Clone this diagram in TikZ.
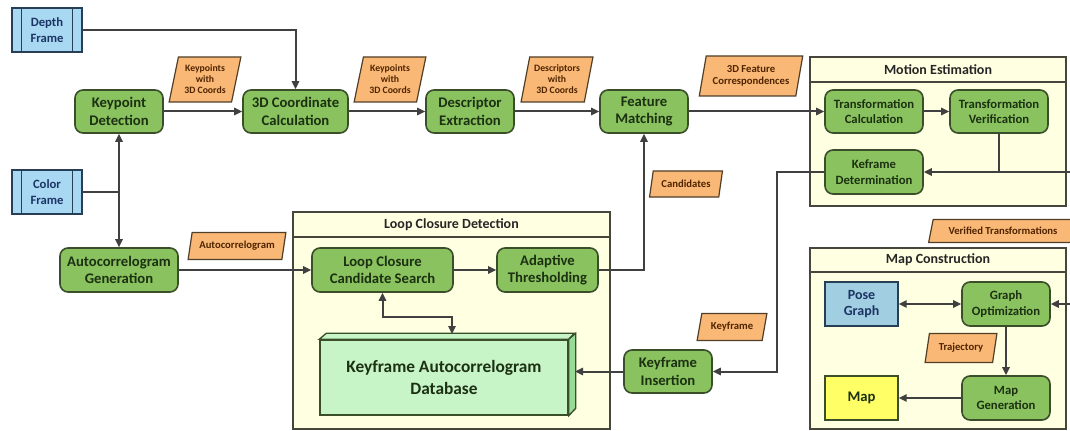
\documentclass[tikz,border=0pt]{standalone}
\usepackage{fontspec}
\setmainfont{Carlito}
\usetikzlibrary{arrows.meta,shapes.geometric,calc}
\definecolor{gfill}{RGB}{137,194,94}
\definecolor{gdraw}{RGB}{58,78,42}
\definecolor{gtext}{RGB}{28,48,18}
\definecolor{bfill}{RGB}{168,216,242}
\definecolor{bdraw}{RGB}{40,62,84}
\definecolor{btext}{RGB}{28,52,100}
\definecolor{pfill}{RGB}{162,206,226}
\definecolor{yfill}{RGB}{255,255,102}
\definecolor{ofill}{RGB}{249,184,118}
\definecolor{odraw}{RGB}{80,62,40}
\definecolor{otext}{RGB}{80,36,0}
\definecolor{cfill}{RGB}{255,255,226}
\definecolor{cdraw}{RGB}{70,70,60}
\definecolor{dbfill}{RGB}{200,245,200}
\definecolor{dbside}{RGB}{150,220,150}
\definecolor{lcol}{RGB}{64,64,64}
\tikzset{
  sz/.style 2 args={minimum width=#1*0.75pt, minimum height=#2*0.75pt},
  gbox/.style={draw=gdraw, fill=gfill, line width=1.2pt, rounded corners=6pt,
    text=gtext, font=\bfseries\fontsize{11}{13}\selectfont, align=center, inner sep=1pt},
  gsmall/.style={gbox, font=\bfseries\fontsize{9.5}{11.5}\selectfont},
  fbox/.style={draw=bdraw, fill=bfill, line width=1.1pt, text=btext,
    font=\bfseries\fontsize{9.5}{11.5}\selectfont, align=center, inner sep=1pt},
  plbl/.style={trapezium, trapezium left angle=#1, trapezium right angle=180-#1,
    trapezium stretches=true, draw=odraw, fill=ofill, line width=0.9pt, text=otext,
    font=\bfseries\fontsize{8}{9}\selectfont, align=center, inner sep=0pt},
  plbl3/.style={font=\bfseries\fontsize{7.3}{8.3}\selectfont},
  cont/.style={draw=cdraw, fill=cfill, line width=1pt},
  hdr/.style={font=\bfseries\fontsize{10.5}{12}\selectfont, text=black!85},
  conn/.style={draw=lcol, line width=1.5pt},
  arr/.style={conn, -{Triangle[length=6pt,width=5.5pt]}},
  arrboth/.style={conn, {Triangle[length=6pt,width=5.5pt]}-{Triangle[length=6pt,width=5.5pt]}},
}
\begin{document}
\begin{tikzpicture}[x=0.75pt,y=-0.75pt]
\useasboundingbox (0,0) rectangle (1070,431);

% containers
\draw[cont] (810,57) rectangle (1066,206);
\draw[cont] (810,82) -- (1066,82);
\node[hdr] (hme) at (938,69.5) {Motion Estimation};
\draw[cont] (293,212) rectangle (610,429);
\draw[cont] (293,237) -- (610,237);
\node[hdr] (hlc) at (451.5,224.5) {Loop Closure Detection};
\draw[cont] (810,248) rectangle (1066,429);
\draw[cont] (810,272) -- (1066,272);
\node[hdr] (hmc) at (938,260) {Map Construction};

% input frames
\node[fbox, sz={70}{44}] (df) at (47,30) {Depth\\Frame};
\node[fbox, sz={70}{44}] (cf) at (47,192) {Color\\Frame};
\foreach \n in {df,cf}{
  \draw[draw=bdraw, line width=1.1pt] ([xshift=7.5pt]\n.north west) -- ([xshift=7.5pt]\n.south west);
  \draw[draw=bdraw, line width=1.1pt] ([xshift=-7.5pt]\n.north east) -- ([xshift=-7.5pt]\n.south east);
}

% main process nodes
\node[gbox, sz={88}{43}] (kd) at (119,111.5) {Keypoint\\Detection};
\node[gbox, sz={105}{43}] (cc) at (295.5,111.5) {3D Coordinate\\Calculation};
\node[gbox, sz={88}{43}] (de) at (470,111.5) {Descriptor\\Extraction};
\node[gbox, sz={88}{43}] (fm) at (644,111.5) {Feature\\Matching};
\node[gsmall, sz={98}{43}] (tc) at (874,111.5) {Transformation\\Calculation};
\node[gsmall, sz={98}{43}] (tv) at (999,111.5) {Transformation\\Verification};
\node[gsmall, sz={98}{44}] (kdt) at (874,172) {Keframe\\Determination};
\node[gbox, sz={118}{44}] (ag) at (119,270) {Autocorrelogram\\Generation};
\node[gbox, sz={141}{44}] (lc) at (382.5,270) {Loop Closure\\Candidate Search};
\node[gbox, sz={101}{44}] (at) at (547.5,270) {Adaptive\\Thresholding};
\node[gbox, sz={88}{43}] (ki) at (668,371.5) {Keyframe\\Insertion};
\node[gsmall, sz={88}{44}] (go) at (1006,304) {Graph\\Optimization};
\node[gsmall, sz={88}{44}] (mg) at (1006,398) {Map\\Generation};
\node[draw=bdraw, fill=pfill, line width=1.1pt, sz={73}{44}, align=center,
  font=\bfseries\fontsize{10.5}{12.5}\selectfont, text=btext] (pg) at (861.5,304) {Pose\\Graph};
\node[draw=gdraw, fill=yfill, line width=1.1pt, sz={73}{44},
  font=\bfseries\fontsize{11}{13}\selectfont, text=gtext] (mp) at (861.5,398) {Map};

% database (3D box)
\node[draw=gdraw, fill=dbfill, line width=1.1pt, sz={248}{75}, align=center,
  font=\bfseries\fontsize{13}{17}\selectfont, text=gtext] (db) at (444,377.5) {Keyframe Autocorrelogram\\Database};
\draw[draw=gdraw, fill=dbfill, line width=1pt] (db.north west) -- ++(7,-6) -- ++(248,0) -- (db.north east) -- cycle;
\draw[draw=gdraw, fill=dbside, line width=1pt] (db.north east) -- ++(7,-6) -- ++(0,75) -- (db.south east) -- cycle;
\coordinate (dbt) at (452,334);
\coordinate (dbs) at (575,371.5);

% data labels
\node[plbl=76, plbl3, sz={72}{45}] (l1) at (205,79.5) {Keypoints\\with\\3D Coords};
\node[plbl=76, plbl3, sz={72}{45}] (l2) at (390,79.5) {Keypoints\\with\\3D Coords};
\node[plbl=76, plbl3, sz={72}{45}] (l3) at (557,79.5) {Descriptors\\with\\3D Coords};
\node[plbl=74, sz={104}{40}] (l4) at (751,76) {3D Feature\\Correspondences};
\node[plbl=70, sz={73}{26}] (l5) at (686,184) {Candidates};
\node[plbl=70, sz={98}{27}] (l6) at (237,246) {Autocorrelogram};
\node[plbl=65, sz={150}{23}] (l7) at (1003,231) {Verified Transformations};
\node[plbl=70, sz={70}{27}] (l8) at (732,327) {Keyframe};
\node[plbl=72, sz={72}{29}] (l9) at (961,348) {Trajectory};

% connectors
\draw[arr] (df.east) -| (cc.north);
\draw[arr] (kd.east) -- (cc.west);
\draw[arr] (cc.east) -- (de.west);
\draw[arr] (de.east) -- (fm.west);
\draw[arr] (fm.east) -- (tc.west);
\draw[arr] (tc.east) -- (tv.west);
\draw[arr] (tv.south) |- (kdt.east);
\coordinate (offr) at (1090,172);
\draw[conn] (offr) -- (tv.south |- kdt.east);
\draw[arr] (offr) |- (go.east);
\coordinate (kbend) at (777,172);
\draw[arr] (kdt.west) -- (kbend) |- (ki.east);
\draw[arr] (ki.west) -- (dbs);
\draw[conn] (cf.east) -- (cf.east -| kd.south);
\draw[arrboth] (kd.south) -- (ag.north);
\draw[arr] (ag.east) -- (lc.west);
\draw[arr] (lc.east) -- (at.west);
\draw[arr] (at.east) -| (fm.south);
\draw[arrboth] (lc.south) -- ++(0,24) -| (dbt);
\draw[arrboth] (pg.east) -- (go.west);
\draw[arr] (go.south) -- (mg.north);
\draw[arr] (mg.west) -- (mp.east);
\end{tikzpicture}
\end{document}
